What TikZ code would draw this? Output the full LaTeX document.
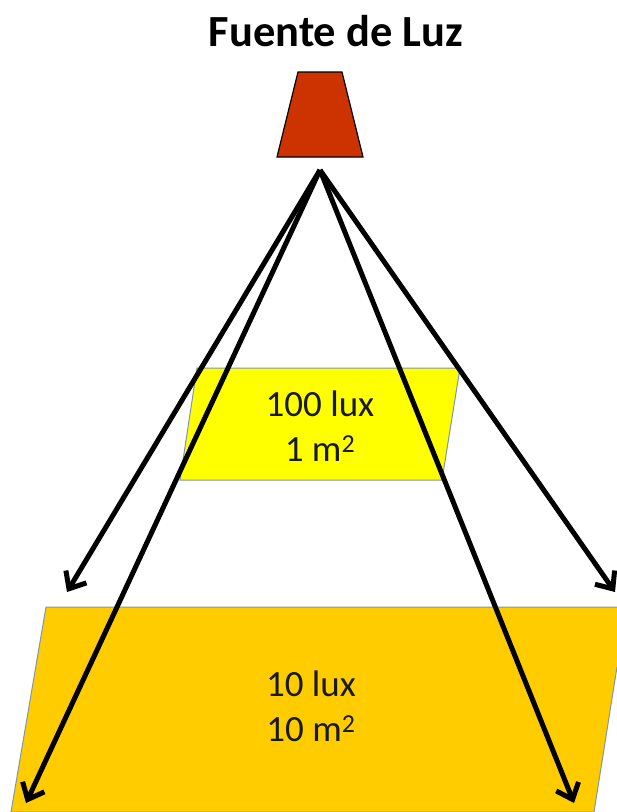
\documentclass[tikz,border=0pt]{standalone}
\usepackage{fontspec}
\setmainfont{Carlito}
\usetikzlibrary{arrows.meta,positioning}
\definecolor{nearfill}{RGB}{255,255,0}
\definecolor{farfill}{RGB}{255,204,0}
\definecolor{lampfill}{RGB}{204,51,0}
\definecolor{planeline}{RGB}{130,150,170}

\begin{document}
\begin{tikzpicture}[
    x=1pt, y=-1pt,
    plane/.style={draw=planeline, line width=1pt},
    label/.style={align=center, text=black!90, font=\fontsize{37}{45}\selectfont},
    ray/.style={-{Straight Barb[length=14pt, width=24pt, line width=5pt]}, line width=5pt},
]
\useasboundingbox (0,0) rectangle (617,812);

\fill[white] (0,0) rectangle (617,812);

% planes
\draw[plane, fill=nearfill] (197,368) -- (460,368) -- (442,480) -- (180,480) -- cycle;
\draw[plane, fill=farfill] (617,667) -- (594,812) -- (11,812) -- (46,607) -- (617,607);

% lamp
\draw[line width=1.2pt, fill=lampfill] (298,72) -- (342,72) -- (363,157) -- (277,157) -- cycle;

\node[font=\fontsize{44.5}{45}\selectfont\bfseries, text=black] (title) at (336,31) {Fuente de Luz};
\node[label] (near) at (320,426) {100 lux\\1 m\textsuperscript{2}};
\node[label] (far) at (311,706) {10 lux\\10 m\textsuperscript{2}};

\coordinate (apex) at (320,170);
\coordinate (nearL) at (67,592);
\coordinate (nearR) at (615,592);
\coordinate (farL) at (26,803);
\coordinate (farR) at (574,803);

\draw[ray] (apex) -- (nearL);
\draw[ray] (apex) -- (nearR);
\draw[ray] (apex) -- (farL);
\draw[ray] (apex) -- (farR);
\end{tikzpicture}
\end{document}
